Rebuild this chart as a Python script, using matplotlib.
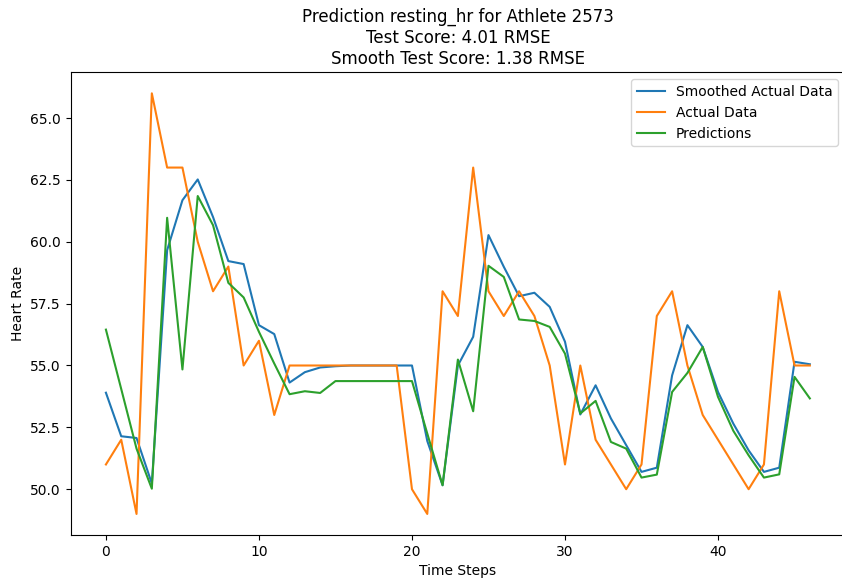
import matplotlib
matplotlib.use("Agg")
import matplotlib.pyplot as plt

steps = list(range(47))

smoothed = [53.9, 52.14, 52.07, 50.23, 59.66, 61.68, 62.52, 61.0, 59.22, 59.1,
            56.63, 56.27, 54.31, 54.73, 54.92, 54.97, 55.0, 55.0, 55.0, 55.0,
            55.0, 51.95, 50.16, 55.0, 56.16, 60.27, 58.99, 57.8, 57.94, 57.37,
            55.96, 53.02, 54.2, 52.86, 51.78, 50.7, 50.87, 54.6, 56.63, 55.75,
            53.93, 52.65, 51.57, 50.7, 50.87, 55.15, 55.05]

actual = [51, 52, 49, 66, 63, 63, 60, 58, 59, 55,
          56, 53, 55, 55, 55, 55, 55, 55, 55, 55,
          50, 49, 58, 57, 63, 58, 57, 58, 57, 55,
          51, 55, 52, 51, 50, 51, 57, 58, 55, 53,
          52, 51, 50, 51, 58, 55, 55]

predictions = [56.45, 54.05, 51.64, 50.02, 60.97, 54.84, 61.85, 60.67, 58.34, 57.75,
               56.36, 55.08, 53.84, 53.96, 53.89, 54.37, 54.37, 54.37, 54.37, 54.37,
               54.37, 52.25, 50.16, 55.24, 53.15, 59.03, 58.58, 56.86, 56.8, 56.56,
               55.48, 53.06, 53.57, 51.91, 51.64, 50.47, 50.59, 53.93, 54.7, 55.75,
               53.73, 52.36, 51.37, 50.47, 50.6, 54.54, 53.67]

fig, ax = plt.subplots(figsize=(8.42, 5.85), dpi=100)
ax.plot(steps, smoothed, label="Smoothed Actual Data")
ax.plot(steps, actual, label="Actual Data")
ax.plot(steps, predictions, label="Predictions")
ax.set_title("Prediction resting_hr for Athlete 2573\nTest Score: 4.01 RMSE\nSmooth Test Score: 1.38 RMSE")
ax.set_xlabel("Time Steps")
ax.set_ylabel("Heart Rate")
ax.legend(loc="upper right")
# the axes run slightly past the right edge of the picture, as in the reference
fig.subplots_adjust(left=0.084, right=1.0036, top=0.8764, bottom=0.0855)
fig.savefig("out.png")
